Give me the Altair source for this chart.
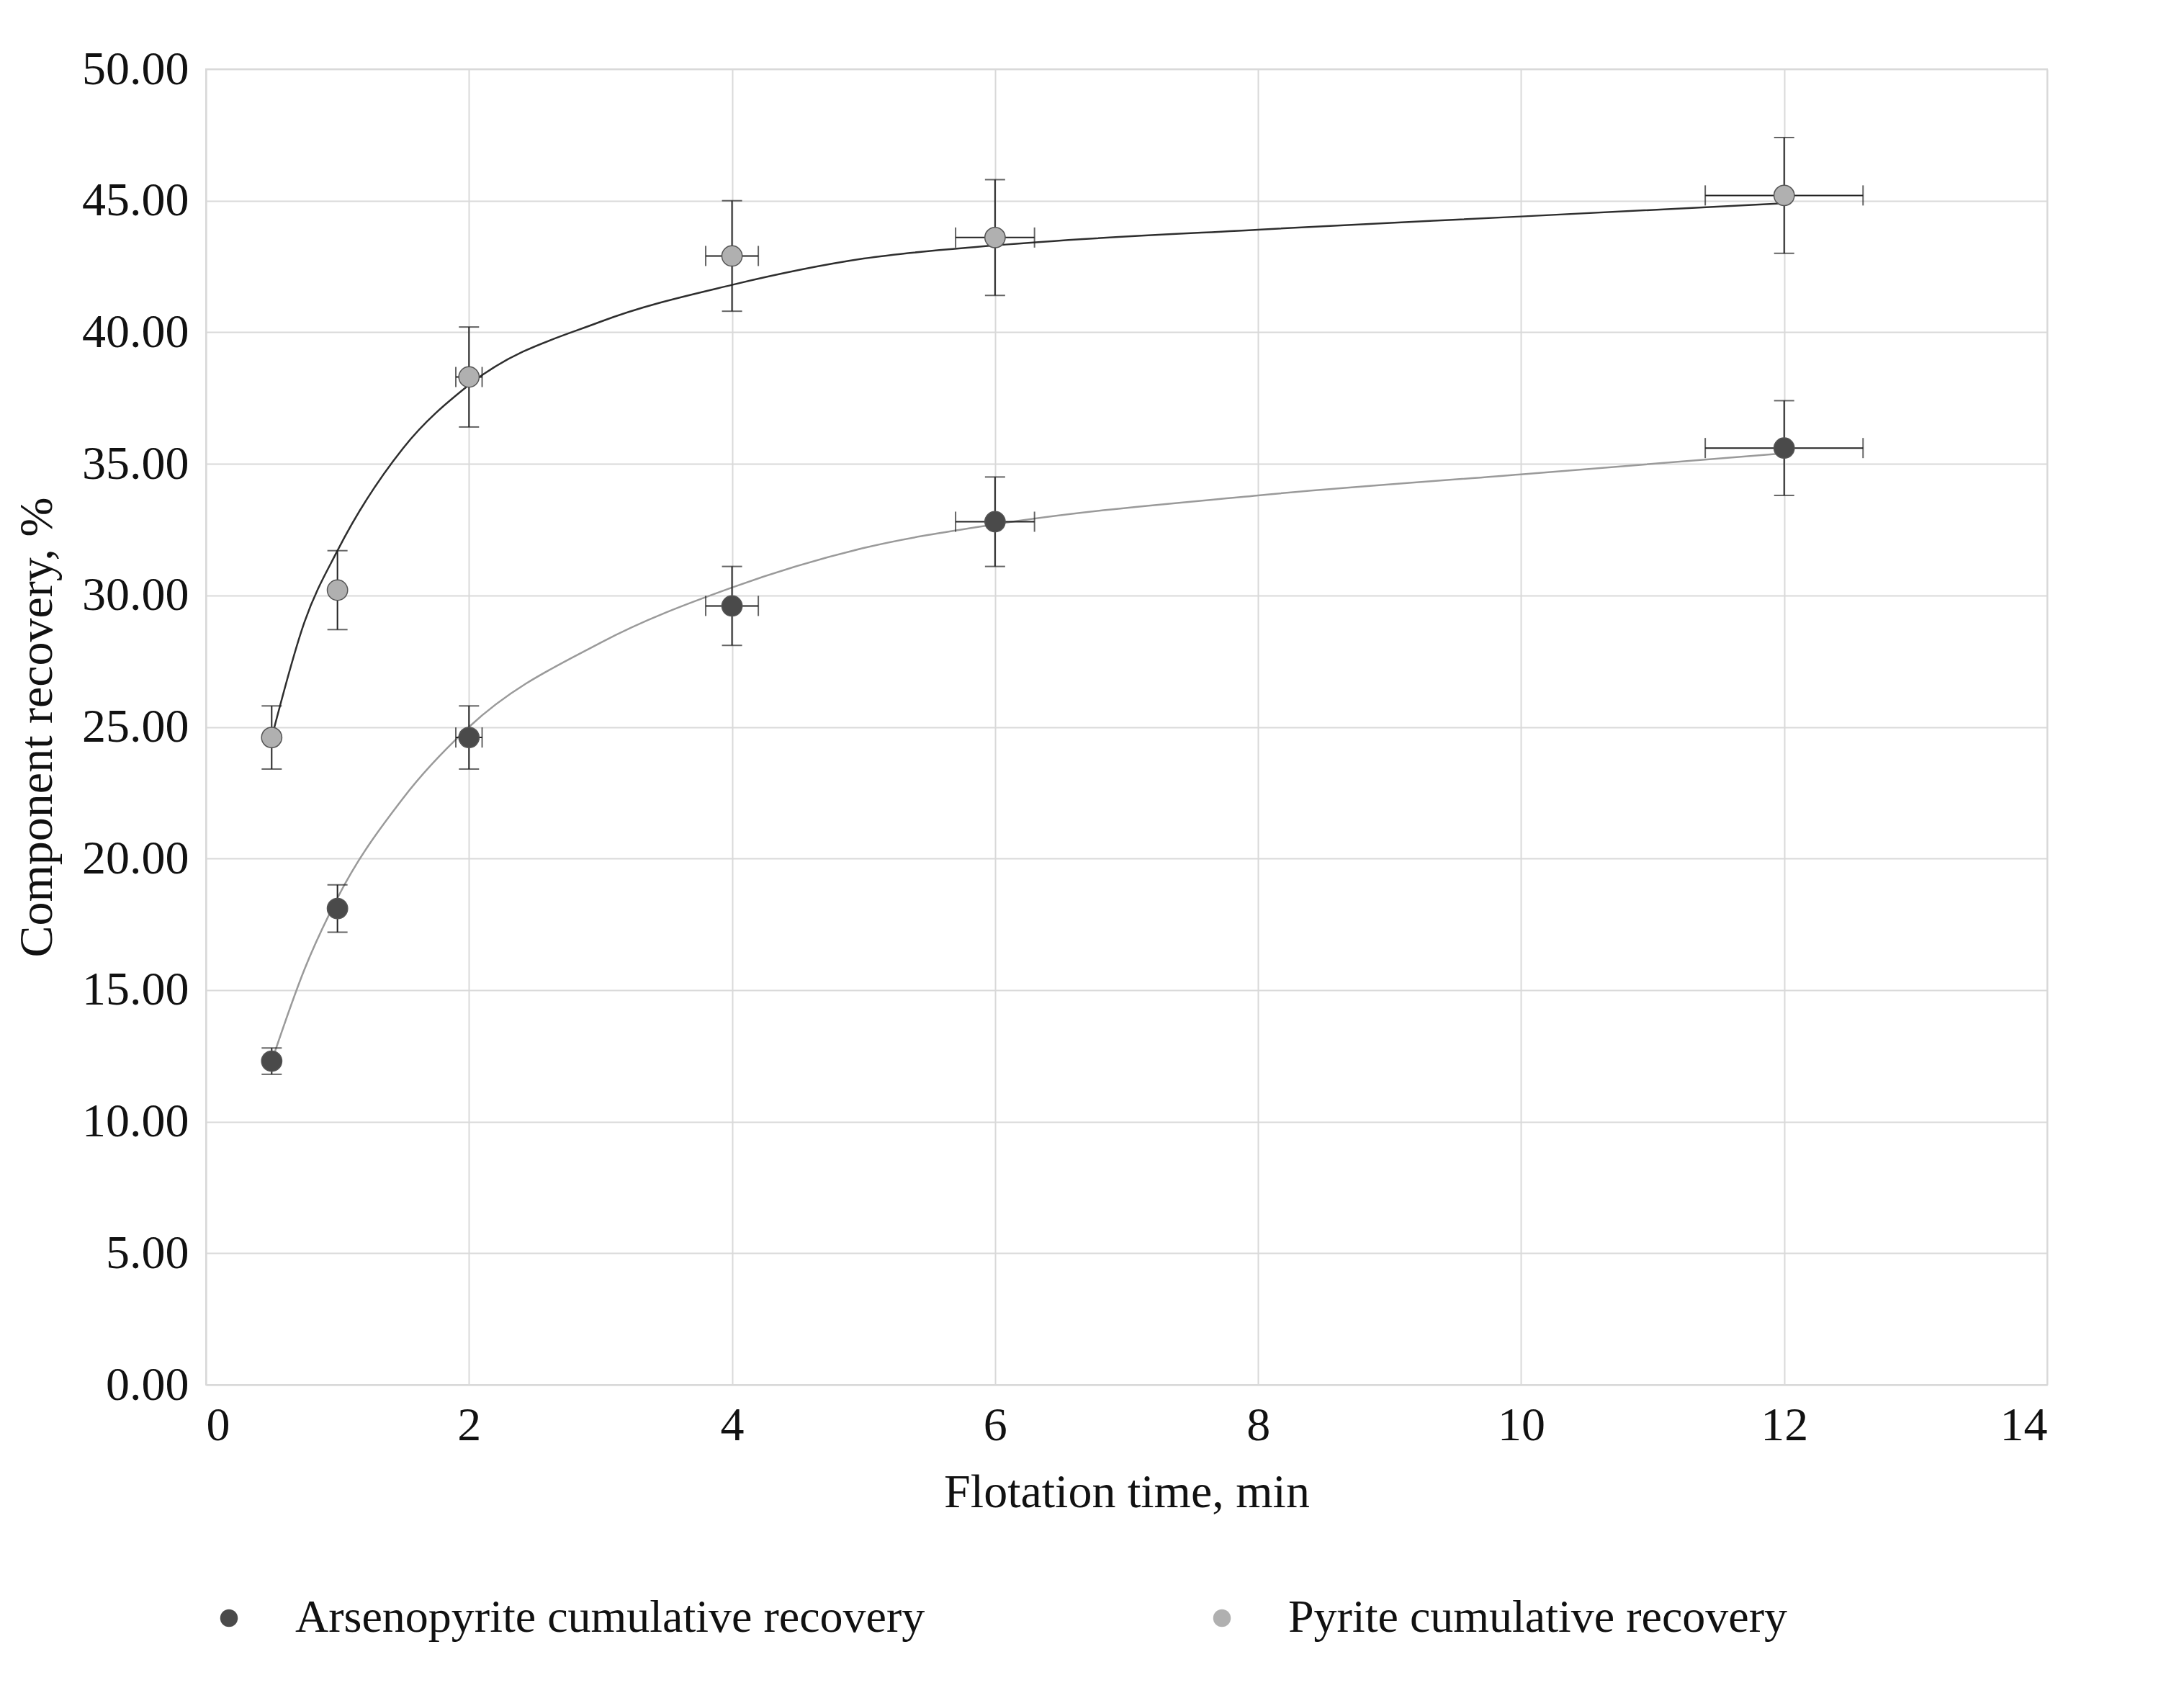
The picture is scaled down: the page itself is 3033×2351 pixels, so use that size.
import altair as alt
import pandas as pd

times = [0.5, 1, 2, 4, 6, 12]
arseno = [12.3, 18.1, 24.6, 29.6, 32.8, 35.6]
arseno_yerr = [0.5, 0.9, 1.2, 1.5, 1.7, 1.8]
pyrite = [24.6, 30.2, 38.3, 42.9, 43.6, 45.2]
pyrite_yerr = [1.2, 1.5, 1.9, 2.1, 2.2, 2.2]
xerr = [0.0, 0.0, 0.1, 0.2, 0.3, 0.6]

# fitted curves
fit_t = [0.5, 0.75, 1, 1.5, 2, 3, 4, 5, 6, 8, 10, 12]
fit_arseno = [12.3, 15.8, 18.5, 22.3, 25.0, 28.2, 30.3, 31.8, 32.7, 33.8, 34.6, 35.4]
fit_pyrite = [24.6, 29.0, 31.7, 35.6, 38.0, 40.4, 41.8, 42.8, 43.3, 43.9, 44.4, 44.9]

A = "Arsenopyrite cumulative recovery"
P = "Pyrite cumulative recovery"

rows = []
for s, vals, ye in [(A, arseno, arseno_yerr), (P, pyrite, pyrite_yerr)]:
    for t, v, e, xe in zip(times, vals, ye, xerr):
        rows.append({"series": s, "t": t, "v": v, "ylo": v - e, "yhi": v + e,
                     "xlo": t - xe, "xhi": t + xe, "xe": xe})
pts = pd.DataFrame(rows)

fit_a = pd.DataFrame({"t": fit_t, "v": fit_arseno})
fit_p = pd.DataFrame({"t": fit_t, "v": fit_pyrite})

font = "Liberation Serif"
xs = alt.Scale(domain=[0, 14], nice=False)
ys = alt.Scale(domain=[0, 50], nice=False)

line_a = alt.Chart(fit_a).mark_line(interpolate="monotone", strokeWidth=2.5, color="#9a9a9a").encode(
    x=alt.X("t:Q", scale=xs, title="Flotation time, min",
            axis=alt.Axis(values=list(range(0, 15, 2)), format="d")),
    y=alt.Y("v:Q", scale=ys, title="Component recovery, %",
            axis=alt.Axis(values=list(range(0, 51, 5)), format=".2f")),
)
line_p = alt.Chart(fit_p).mark_line(interpolate="monotone", strokeWidth=2.5, color="#2e2e2e").encode(
    x="t:Q", y="v:Q")

base = alt.Chart(pts)
yrule = base.mark_rule(color="#222", strokeWidth=2).encode(
    x="t:Q", y="ylo:Q", y2="yhi:Q")
ycap_lo = base.mark_tick(color="#222", orient="horizontal", size=28, thickness=2).encode(
    x="t:Q", y="ylo:Q")
ycap_hi = base.mark_tick(color="#222", orient="horizontal", size=28, thickness=2).encode(
    x="t:Q", y="yhi:Q")
xb = alt.Chart(pts[pts.xe > 0])
xrule = xb.mark_rule(color="#222", strokeWidth=2).encode(x="xlo:Q", x2="xhi:Q", y="v:Q")
xcap_lo = xb.mark_tick(color="#222", orient="vertical", size=28, thickness=2).encode(
    x="xlo:Q", y="v:Q")
xcap_hi = xb.mark_tick(color="#222", orient="vertical", size=28, thickness=2).encode(
    x="xhi:Q", y="v:Q")

points = base.mark_point(filled=True, shape="circle", size=800, opacity=1,
                         stroke="#555", strokeWidth=1.5).encode(
    x="t:Q", y="v:Q",
    fill=alt.Fill("series:N", scale=alt.Scale(domain=[A, P], range=["#4a4a4a", "#b0b0b0"]),
                  legend=alt.Legend(orient="bottom", direction="horizontal", title=None,
                                    symbolSize=600, labelFontSize=64, labelFont=font,
                                    columnPadding=380, symbolStrokeWidth=0, offset=110,
                                    labelLimit=1400, labelOffset=60, labelColor="#111")),
)

chart = alt.layer(line_a, line_p, yrule, ycap_lo, ycap_hi, xrule, xcap_lo, xcap_hi, points).properties(
    width=2557, height=1827, background="white",
    padding={"left": 10, "top": 55, "right": 40, "bottom": 10},
).configure_axis(
    labelFont=font, titleFont=font, labelFontSize=66, titleFontSize=66,
    titleFontWeight="normal", labelColor="#111", titleColor="#111",
    gridColor="#d9d9d9", gridWidth=2, domainColor="#d9d9d9", domainWidth=2,
    ticks=False, labelPadding=24, titlePadding=28,
).configure_view(stroke="#d9d9d9", strokeWidth=2)

chart.save("out.html", embed_options={"renderer": "svg", "actions": False})
